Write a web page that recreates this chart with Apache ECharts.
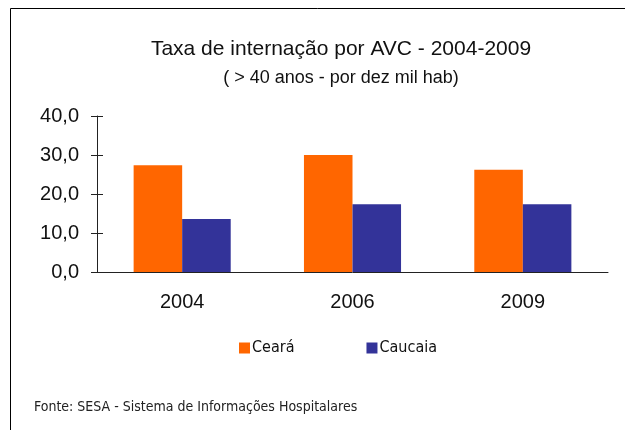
<!DOCTYPE html>
<html>
<head>
<meta charset="utf-8">
<title>Taxa de internação por AVC - 2004-2009</title>
<script src="https://cdn.jsdelivr.net/npm/echarts@6/dist/echarts.min.js"></script>
<style>
  html, body { margin: 0; padding: 0; background: #fff; }
  #chart { width: 625px; height: 430px; }
</style>
</head>
<body>
<div id="chart"></div>
<script>
const years = ['2004', '2006', '2009']
const ceara = [27.4, 30.0, 26.2]
const caucaia = [13.6, 17.4, 17.4]
const yTicks = [0, 10, 20, 30, 40]

const titleText = 'Taxa de internação por AVC - 2004-2009'
const subText = '( > 40 anos - por dez mil hab)'
const sourceText = 'Fonte: SESA - Sistema de Informações Hospitalares'

const axisColor = '#222'
const fmt = v => v.toFixed(1).replace('.', ',')

const chart = echarts.init(document.getElementById('chart'))

chart.setOption({
  backgroundColor: '#fff',
  animation: false,
  color: ['#FF6600', '#333399'],
  grid: { left: 97, right: 17, top: 116, bottom: 158 },
  legend: {
    left: 234,
    top: 335,
    itemWidth: 11,
    itemHeight: 11,
    itemGap: 72,
    icon: 'rect',
    textStyle: {
      fontFamily: '"DejaVu Sans Condensed", "DejaVu Sans", sans-serif',
      fontSize: 16,
      color: '#111',
      padding: [0, 0, 0, -3],
    },
    data: ['Ceará', 'Caucaia'],
  },
  xAxis: [
    {
      type: 'category',
      data: years,
      axisLine: { lineStyle: { color: axisColor, width: 1 } },
      axisTick: { length: 6, lineStyle: { color: axisColor } },
      axisLabel: {
        margin: 20,
        fontFamily: '"Liberation Sans", Arial, sans-serif',
        fontSize: 20,
        color: '#111',
      },
    },
    {
      type: 'category',
      data: years,
      position: 'bottom',
      axisLine: { show: false },
      axisTick: { inside: true, length: 6, lineStyle: { color: axisColor } },
      axisLabel: { show: false },
    },
  ],
  yAxis: [
    {
      type: 'value',
      min: yTicks[0],
      max: yTicks[yTicks.length - 1],
      interval: 10,
      splitLine: { show: false },
      axisLine: { show: true, lineStyle: { color: axisColor, width: 1 } },
      axisTick: { show: true, length: 6, lineStyle: { color: axisColor } },
      axisLabel: {
        margin: 18,
        formatter: fmt,
        fontFamily: '"Liberation Sans", Arial, sans-serif',
        fontSize: 20,
        color: '#111',
      },
    },
    {
      type: 'value',
      position: 'left',
      min: yTicks[0],
      max: yTicks[yTicks.length - 1],
      interval: 10,
      splitLine: { show: false },
      axisLine: { show: false },
      axisTick: { show: true, inside: true, length: 6, lineStyle: { color: axisColor } },
      axisLabel: { show: false },
    },
  ],
  series: [
    {
      name: 'Ceará',
      type: 'bar',
      data: ceara,
      barGap: '0%',
      barCategoryGap: '43%',
    },
    {
      name: 'Caucaia',
      type: 'bar',
      data: caucaia,
    },
  ],
  graphic: [
    // frame: only the top and left edges show in the original crop
    { type: 'line', shape: { x1: 10.5, y1: 8.5, x2: 625, y2: 8.5 }, style: { stroke: '#000', lineWidth: 1 } },
    { type: 'line', shape: { x1: 10.5, y1: 8.5, x2: 10.5, y2: 430 }, style: { stroke: '#000', lineWidth: 1 } },
    {
      type: 'text',
      style: {
        text: titleText,
        x: 341,
        y: 49,
        textAlign: 'center',
        textVerticalAlign: 'middle',
        fontFamily: '"Liberation Sans", Arial, sans-serif',
        fontSize: 21,
        fill: '#111',
      },
    },
    {
      type: 'text',
      style: {
        text: subText,
        x: 341,
        y: 78,
        textAlign: 'center',
        textVerticalAlign: 'middle',
        fontFamily: '"Liberation Sans", Arial, sans-serif',
        fontSize: 18,
        fill: '#111',
      },
    },
    {
      type: 'text',
      style: {
        text: sourceText,
        x: 34,
        y: 407,
        textVerticalAlign: 'middle',
        fontFamily: '"DejaVu Sans Condensed", "DejaVu Sans", sans-serif',
        fontSize: 14,
        fill: '#222',
      },
    },
  ],
})
</script>
</body>
</html>
